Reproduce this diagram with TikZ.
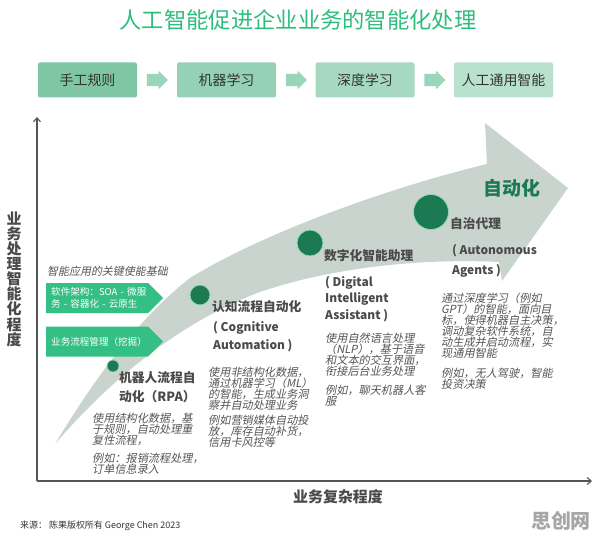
\documentclass[tikz,border=0pt]{standalone}
\usepackage{fontspec}
\setmainfont{Noto Sans CJK SC}
\newfontfamily\slantfont{Noto Sans CJK SC}[FakeSlant=0.2]
\usepackage{xcolor}
\usepackage{tikz}
\usetikzlibrary{shapes.arrows,shapes.symbols,arrows.meta,positioning}

\definecolor{titlegreen}{HTML}{2DBE7E}
\definecolor{boxA}{HTML}{7FC7A4}
\definecolor{boxB}{HTML}{95D1B4}
\definecolor{boxC}{HTML}{A6D9C0}
\definecolor{boxD}{HTML}{B9E2CE}
\definecolor{flowgreen}{HTML}{99D5B9}
\definecolor{basegreen}{HTML}{34BF85}
\definecolor{dotgreen}{HTML}{1B7A51}
\definecolor{dotrim}{HTML}{8FD9B5}
\definecolor{bandgray}{HTML}{CAD4CE}
\definecolor{axisgray}{HTML}{555555}
\definecolor{textgray}{HTML}{4A4A4A}
\definecolor{descgray}{HTML}{555555}
\newcommand{\fsz}[2]{\fontsize{#1}{#2}\selectfont}

\begin{document}
\begin{tikzpicture}[
      x=1bp, y=-1bp,
      topbox/.style={rectangle, rounded corners=2bp, minimum width=99bp, minimum height=35bp, inner sep=0pt, font=\fsz{14}{16}, text=black!80},
      flowarr/.style={single arrow, fill=flowgreen, minimum height=21bp, inner xsep=0pt, inner ysep=6bp, single arrow head extend=3bp},
      basebox/.style={signal, signal to=east, fill=basegreen, text=white, font=\fsz{9.6}{11.5}, align=left, text width=92bp, minimum height=30bp, inner xsep=5bp, inner ysep=0pt, anchor=west},
      dot/.style={circle, fill=dotgreen, draw=dotrim, line width=0.8bp, inner sep=0pt},
      mtitle/.style={anchor=north west, inner sep=0pt, align=left, text=textgray, font=\bfseries\fsz{12.8}{19}},
      mname/.style={anchor=north west, inner sep=0pt, align=left, text=textgray, font=\bfseries\fsz{12}{18}},
      mdesc/.style={anchor=north west, inner sep=0pt, align=left, text=descgray, font=\slantfont\fsz{11.2}{11}},
      axis/.style={draw=axisgray, line width=1.1bp, -{Straight Barb[length=4bp,width=7bp]}}
    ]
    \fill[white] (0,0) rectangle (596,537);
    \useasboundingbox (0,0) rectangle (596,537);

    \node[font=\fsz{22.4}{24}, text=titlegreen] (title) at (298,20) {人工智能促进企业业务的智能化处理};

    \foreach \n/\x/\c/\t in {1/87.5/boxA/手工规则, 2/226.5/boxB/机器学习, 3/365/boxC/深度学习, 4/503.5/boxD/人工通用智能} {
        \node[topbox, fill=\c] (s\n) at (\x,80) {\t};
    }
    \foreach \i in {1,2,3} {
        \node[flowarr, right=9.5bp of s\i] (f\i) {};
    }

    % swoosh
    \fill[bandgray] (55,444) .. controls (85,395) and (130,325) .. (190,278)
        .. controls (260,235) and (380,190) .. (487,164) -- (485,123) -- (568,188) -- (502,281) -- (499,262)
        .. controls (420,258) and (330,268) .. (260,292) .. controls (180,322) and (110,380) .. cycle;

    \coordinate (origin) at (37,481);
    \coordinate (ytop) at (37,117);
    \coordinate (xend) at (592,481);
    \draw[axis] (origin) -- (ytop);
    \draw[axis] (origin) -- (xend);
    \node[font=\bfseries\fsz{15}{15.2}, text=textgray, align=center] (ylab) at (14,279) {业\\务\\处\\理\\智\\能\\化\\程\\度};
    \node[font=\bfseries\fsz{15}{16}, text=textgray] (xlab) at (338,497) {业务复杂程度};

    \node[anchor=west, inner sep=0pt, text=descgray, font=\slantfont\fsz{11}{12}] (basehd) at (47,271) {智能应用的关键使能基础};
    \node[basebox] (b1) at (46,298) {\mbox{软件架构：SOA - 微服}\\\mbox{务 - 容器化 - 云原生}};
    \node[basebox] (b2) at (46,341.5) {业务流程管理（挖掘）};

    \node[text=dotgreen, font=\bfseries\fsz{19}{20}] (auto) at (512,188) {自动化};

    \node[dot, minimum size=12bp] (c1) at (113,366) {};
    \node[mtitle] (t1) at (119,371) {机器人流程自\\动化（RPA）};
    \node[mdesc] (d1) at (92,413) {使用结构化数据，基\\于规则，自动处理重\\复性流程，};
    \node[mdesc] (x1) at (92,453) {例如：报销流程处理，\\订单信息录入};

    \node[dot, minimum size=20bp] (c2) at (200,295) {};
    \node[mtitle] (t2) at (212,300) {认知流程自动化};
    \node[mname] (n2) at (213,321) {( Cognitive\\Automation )};
    \node[mdesc] (d2) at (208,367) {使用非结构化数据，\\通过机器学习（ML）\\的智能，生成业务洞\\察并自动处理业务};
    \node[mdesc] (x2) at (208,415) {例如营销媒体自动投\\放，库存自动补货，\\信用卡风控等};

    \node[dot, minimum size=26bp] (c3) at (310,243) {};
    \node[mtitle] (t3) at (324,249) {数字化智能助理};
    \node[mname, font=\bfseries\fsz{12}{16.5}] (n3) at (325,276) {( Digital\\Intelligent\\Assistant )};
    \node[mdesc] (d3) at (325,333) {使用自然语言处理\\（NLP），基于语音\\和文本的交互界面，\\衔接后台业务处理};
    \node[mdesc] (x3) at (325,385) {例如，聊天机器人客\\服};

    \node[dot, minimum size=35bp] (c4) at (431,212) {};
    \node[mtitle] (t4) at (450,217) {自治代理};
    \node[mname, font=\bfseries\fsz{12}{20}] (n4) at (452,244) {( Autonomous\\Agents )};
    \node[mdesc] (d4) at (441,293) {通过深度学习（例如\\GPT）的智能，面向目\\标，使得机器自主决策，\\调动复杂软件系统，自\\动生成并启动流程，实\\现通用智能};
    \node[mdesc] (x4) at (441,368) {例如，无人驾驶，智能\\投资决策};

    \node[anchor=west, inner sep=0pt, font=\fsz{9}{10}, text=black!80] (src) at (20,526) {来源： 陈果版权所有 George Chen 2023};
    \node[font=\bfseries\fsz{20}{20}, text=black!35] (wm) at (561,521) {思创网};
  \end{tikzpicture}
\end{document}
